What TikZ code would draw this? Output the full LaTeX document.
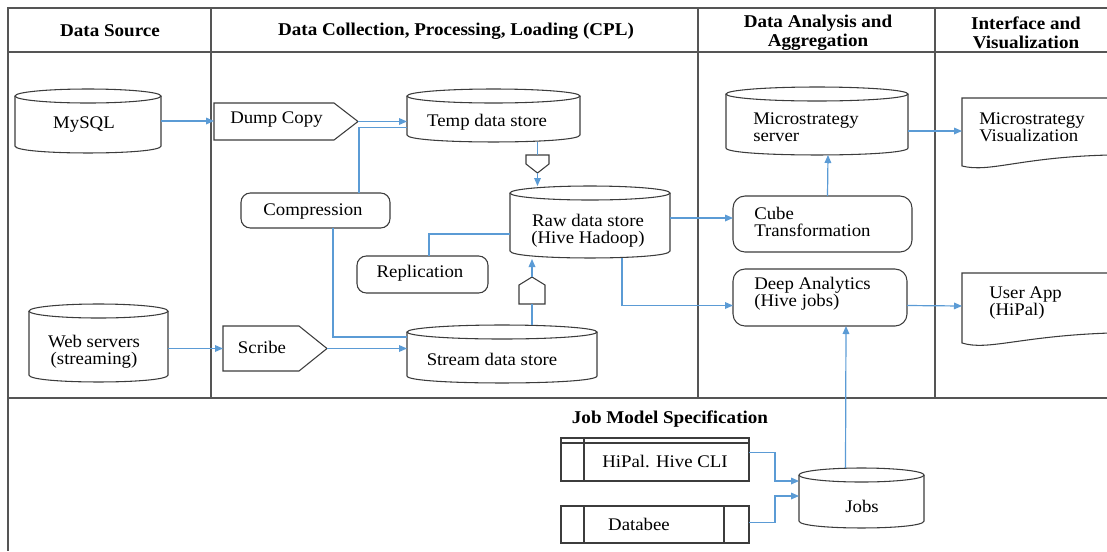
\documentclass[tikz,border=0pt]{standalone}
\usepackage{fontspec}
\setmainfont{Liberation Serif}[FakeStretch=1.06]
\usetikzlibrary{arrows.meta,fit,calc}
\definecolor{conn}{RGB}{91,155,213}
\definecolor{framec}{RGB}{85,85,85}
\definecolor{shpc}{RGB}{60,60,60}
\tikzset{
  frm/.style={draw=framec, line width=1pt},
  shp/.style={draw=shpc, line width=0.8pt},
  area/.style={inner sep=0pt, outer sep=0pt},
  cn/.style={draw=conn, line width=0.9pt},
  arr/.style={cn, -{Triangle[length=6pt,width=5pt]}},
  txt/.style={inner sep=0pt, font=\fontsize{13.3}{12.8}\selectfont, align=left},
  hd/.style={inner sep=0pt, font=\fontsize{13.5}{14}\selectfont\bfseries, align=center},
}
% cylinder outline: x1, y1 (top), x2, y2 (bottom)
\newcommand\cylshape[4]{%
  \draw[shp] ({(#1+#3)/2},{#2+7}) ellipse [x radius={(#3-#1)/2}, y radius=7];
  \draw[shp] (#1,{#2+7}) -- (#1,{#4-7}) .. controls (#1,{#4+2.3}) and (#3,{#4+2.3}) .. (#3,{#4-7}) -- (#3,{#2+7});
}
\begin{document}
\begin{tikzpicture}[x=0.75pt,y=-0.75pt]
\useasboundingbox (0,0) rectangle (1107,551);
\clip (0,0) rectangle (1107,551);
% frame
\draw[frm] (1107,8) -- (8,8) -- (8,551);
\draw[frm] (8,52) -- (1107,52);
\draw[frm] (8,398) -- (1107,398);
\draw[frm] (211,8) -- (211,398) (698,8) -- (698,398) (935,8) -- (935,398);
% headers
\node[hd] (h1) at (110,31) {Data Source};
\node[hd] (h2) at (456,31) {Data Collection, Processing, Loading (CPL)};
\node[hd] (h3) at (818,33) {Data Analysis and\\Aggregation};
\node[hd] (h4) at (1026,33) {Interface and\\Visualization};
\node[hd] (h5) at (670,419) {Job Model Specification};

% MySQL
\node[area, fit={(15,89) (161,153)}] (mysql) {};
\cylshape{15}{89}{161}{153}
\node[txt] (t-mysql) at (84,125) {MySQL};
% Dump Copy
\node[area, fit={(214,103) (358,140)}] (dump) {};
\draw[shp] (214,103) -- (334,103) -- (358,121.5) -- (334,140) -- (214,140) -- cycle;
\node[txt, anchor=west] (t-dump) at (230,120) {Dump Copy};
% Temp data store
\node[area, fit={(407,89) (580,142)}] (temp) {};
\cylshape{407}{89}{580}{142}
\node[txt] (t-temp) at (487,122) {Temp data store};
% Compression
\node[area, fit={(241,193) (390,228)}, shp, rounded corners=7pt] (comp) {};
\node[txt] (t-comp) at (313,212) {Compression};
% pentagon down
\node[area, fit={(526,155) (549,173)}] (pd) {};
\draw[shp] (526,155) -- (549,155) -- (549,164) -- (537.5,173) -- (526,164) -- cycle;
% Raw data store
\node[area, fit={(510,186) (670,258)}] (raw) {};
\cylshape{510}{186}{670}{258}
\node[txt, align=center] (t-raw) at (588,231) {Raw data store\\(Hive Hadoop)};
% Replication
\node[area, fit={(357,256) (488,293)}, shp, rounded corners=7pt] (rep) {};
\node[txt] (t-rep) at (420,273) {Replication};
% pentagon up
\node[area, fit={(519,277) (545,304)}] (pu) {};
\draw[shp] (519,304) -- (519,285) -- (532,277) -- (545,285) -- (545,304) -- cycle;
% Stream data store
\node[area, fit={(407,325) (597,383)}] (stream) {};
\cylshape{407}{325}{597}{383}
\node[txt] (t-stream) at (492,359) {Stream data store};
% Scribe
\node[area, fit={(223,326) (327,371)}] (scribe) {};
\draw[shp] (223,326) -- (299,326) -- (327,348.5) -- (299,371) -- (223,371) -- cycle;
\node[txt] (t-scribe) at (262,347) {Scribe};
% Web servers
\node[area, fit={(29,304) (168,382)}] (web) {};
\cylshape{29}{304}{168}{382}
\node[txt, align=center] (t-web) at (94,352) {Web servers\\(streaming)};
% Microstrategy server
\node[area, fit={(726,87) (908,155)}] (mss) {};
\cylshape{726}{87}{908}{155}
\node[txt, anchor=west] (t-mss) at (753,127) {Microstrategy\\server};
% Cube Transformation
\node[area, fit={(733,196) (912,252)}, shp, rounded corners=9pt] (cube) {};
\node[txt, anchor=west] (t-cube) at (754,222) {Cube\\Transformation};
% Deep Analytics
\node[area, fit={(733,269) (907,326)}, shp, rounded corners=9pt] (deep) {};
\node[txt, anchor=west] (t-deep) at (754,294) {Deep Analytics\\(Hive jobs)};
% Microstrategy Visualization (document)
\node[area, fit={(962,98) (1107,166)}] (msv) {};
\draw[shp] (1110,98) -- (962,98) -- (962,166) .. controls (990,173) and (1020,157) .. (1110,155);
\node[txt, anchor=west] (t-msv) at (979,127) {Microstrategy\\Visualization};
% User App (document)
\node[area, fit={(962,273) (1107,343)}] (ua) {};
\draw[shp] (1110,273) -- (962,273) -- (962,343) .. controls (988,351) and (1020,336) .. (1110,333);
\node[txt, anchor=west] (t-ua) at (989,303) {User App\\(HiPal)};
% HiPal. Hive CLI
\node[area, fit={(561,438) (749,481)}, shp] (hipal) {};
\draw[shp] (561,443) -- (749,443) (584,438) -- (584,481);
\node[txt] (t-hipal) at (665,461) {HiPal. Hive CLI};
% Databee
\node[area, fit={(561,506) (749,543)}, shp] (databee) {};
\draw[shp] (584,506) -- (584,543) (724,506) -- (724,543);
\node[txt] (t-databee) at (639,524) {Databee};
% Jobs
\node[area, fit={(799,468) (924,528)}] (jobs) {};
\cylshape{799}{468}{924}{528}
\node[txt] (t-jobs) at (862,506) {Jobs};

% connectors
\draw[arr] (mysql.east) -- (mysql.east -| dump.west);
\draw[arr] (dump.east) -- (dump.east -| temp.west);
\draw[cn] ($(comp.north west)+(118,0)$) |- ($(temp.west)+(0,12)$);
\draw[cn] ($(comp.south west)+(92,0)$) |- ($(stream.north west)+(0,12)$);
\draw[cn] (pd.north |- temp.south) -- (pd.north);
\draw[arr] (pd.south) -- (pd.south |- raw.north);
\draw[cn] (pu.south |- stream.north) -- (pu.south);
\draw[arr] (pu.north) -- ($(pu.north |- raw.south)+(0,1)$);
\draw[cn] ($(rep.north west)+(72,0)$) |- ($(raw.west)+(0,12)$);
\draw[arr] (scribe.west -| web.east) -- (scribe.west);
\draw[arr] (scribe.east) -- (scribe.east -| stream.west);
\draw[arr] ($(raw.east)+(0,-4)$) -- ($(cube.west)+(0,-6)$);
\draw[arr] ($(raw.south west)+(112,0)$) |- ($(deep.west)+(0,8)$);
\draw[arr] ($(cube.north)+(5,0)$) -- ($(mss.south)+(11,0)$);
\draw[arr] ($(mss.east)+(0,10)$) -- ($(msv.west)+(0,-1)$);
\draw[arr] ($(deep.east)+(0,8)$) -- ($(ua.west)+(0,-2)$);
\draw[arr] ($(jobs.north)+(-16,0)$) -- ($(deep.south)+(26,0)$);
\draw[arr] ($(hipal.east)+(0,-7)$) -- ++(26,0) |- ($(jobs.west)+(0,-17)$);
\draw[arr] ($(databee.east)+(0,-2)$) -- ++(26,0) |- ($(jobs.west)+(0,-2)$);
\end{tikzpicture}
\end{document}
